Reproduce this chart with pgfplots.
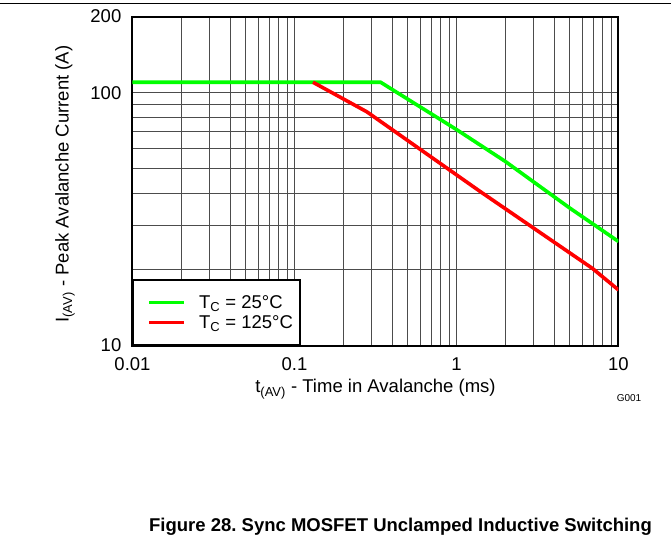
\documentclass[border=0pt]{standalone}
\usepackage{fontspec}
\setmainfont{Liberation Sans}
\usepackage{pgfplots}
\pgfplotsset{compat=1.18}
\definecolor{cgreen}{RGB}{0,255,0}
\definecolor{cred}{RGB}{255,0,0}
\newcommand\lbl{\fontsize{18.5}{22}\selectfont}
\frenchspacing
\begin{document}
\begin{tikzpicture}
\path[use as bounding box] (0,0) rectangle (671pt,542pt);
\draw[line width=1.2pt] (0,538.5pt) -- (671pt,538.5pt);
\begin{axis}[
  at={(132.5pt,196.4pt)}, anchor=south west,
  scale only axis, width=486pt, height=329pt,
  xmode=log, ymode=log,
  xmin=0.01, xmax=10, ymin=10, ymax=200,
  xtick={0.01,0.1,1,10}, xticklabels={0.01,0.1,1,10},
  ytick={10,100,200}, yticklabels={10,100,200},
  minor xtick={0.02,0.03,0.04,0.05,0.06,0.07,0.08,0.09,0.2,0.3,0.4,0.5,0.6,0.7,0.8,0.9,2,3,4,5,6,7,8,9},
  minor ytick={20,30,40,50,60,70,80,90},
  grid=both,
  major grid style={line width=0.8pt, black!70},
  minor grid style={line width=0.8pt, black!70},
  tick style={draw=none},
  axis line style={line width=2pt},
  xticklabel style={font=\lbl, inner sep=0pt, anchor=north, yshift=-12pt},
  yticklabel style={font=\lbl, inner sep=0pt, anchor=east, xshift=-11pt},
  /pgf/number format/assume math mode=true,
  xlabel={t\textsubscript{(AV)} - Time in Avalanche (ms)},
  ylabel={I\textsubscript{(AV)} - Peak Avalanche Current (A)},
  xlabel style={font=\lbl, at={(axis description cs:0.5,-0.144)}, anchor=base},
  ylabel style={font=\lbl, at={(axis description cs:-0.139,0.491)}, anchor=center, rotate=0},
  legend style={at={(0,0)}, anchor=south west, draw=black, line width=2pt, fill=white,
    font=\lbl, inner xsep=5pt, inner ysep=13pt, column sep=11pt, row sep=1.6pt,
    nodes={inner sep=2pt}},
  legend cell align=left,
  legend image code/.code={\path (0pt,0pt); \draw[#1] (9pt,0pt) -- (44pt,0pt);},
]
\addplot[cgreen, line width=3.6pt] coordinates {
  (0.01,110) (0.34,110) (1,71.5) (2,53.5) (5,35) (10,25.8)
};
\addlegendentry{T\textsubscript{C} = 25°C}
\addplot[cred, line width=3.6pt] coordinates {
  (0.13,110) (0.28,84) (1.406,40.6) (6.9,20.2) (10,16.6)
};
\addlegendentry{T\textsubscript{C} = 125°C}
\end{axis}
\node[font=\fontsize{10}{12}\selectfont] at (629pt,144pt) {G001};
\node[anchor=base, font=\bfseries\fontsize{18.5}{22}\selectfont] at (400.5pt,10.3pt) {Figure 28. Sync MOSFET Unclamped Inductive Switching};
\end{tikzpicture}
\end{document}
